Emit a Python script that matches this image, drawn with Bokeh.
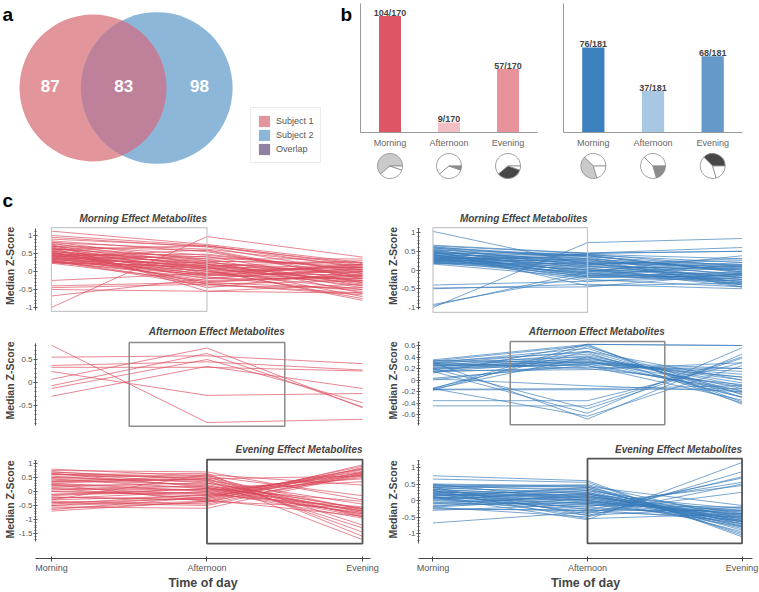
import numpy as np
from bokeh.plotting import figure
from bokeh.models import (Range1d, FactorRange, FixedTicker, Label, Legend,
                          LegendItem, ColumnDataSource)
from bokeh.layouts import row, column
from bokeh.embed import file_html
from bokeh.resources import INLINE
from bokeh.core.properties import value

FONT = "Liberation Sans"

# ------------------------------------------------------------------ data
VENN_ONLY_S1 = 87
VENN_OVERLAP = 83
VENN_ONLY_S2 = 98
VENN_LABELS = ["Subject 1", "Subject 2", "Overlap"]

TIMES = ["Morning", "Afternoon", "Evening"]
S1_COUNTS = [104, 9, 57]
S1_TOTAL = 170
S2_COUNTS = [76, 37, 68]
S2_TOTAL = 181
# slice order of the pies, counter-clockwise from 3 o'clock
S1_PIE_ORDER = ["Morning", "Evening", "Afternoon"]
S2_PIE_ORDER = ["Evening", "Morning", "Afternoon"]

# median z-scores (Morning, Afternoon, Evening) per metabolite
S1_MORNING_EFFECT = [
    (1.12, 0.75, 0.25), (1.0, 0.72, 0.1), (0.95, 0.68, -0.05), (0.9, 0.7, 0.22),
    (0.85, 0.55, -0.2), (0.82, 0.3, -0.6), (0.8, 0.62, 0.15), (0.78, 0.2, -0.3),
    (0.75, 0.45, 0.05), (0.72, 0.1, -0.15), (0.7, 0.35, -0.4), (0.68, -0.05, 0.2),
    (0.66, 0.25, -0.1), (0.64, 0.15, -0.7), (0.62, 0.4, 0.1), (0.6, 0.05, -0.25),
    (0.58, -0.1, 0.0), (0.56, 0.2, -0.45), (0.55, 0.3, 0.18), (0.53, -0.2, -0.2),
    (0.52, 0.1, -0.05), (0.5, 0.0, 0.12), (0.49, 0.22, -0.35), (0.48, -0.15, -0.55),
    (0.46, 0.12, 0.05), (0.45, -0.3, -0.1), (0.44, 0.05, -0.8), (0.42, 0.28, 0.25),
    (0.41, -0.08, -0.3), (0.4, 0.15, 0.0), (0.38, -0.25, -0.15), (0.37, 0.0, -0.5),
    (0.36, 0.18, 0.1), (0.35, -0.12, 0.2), (0.33, 0.08, -0.25), (0.32, -0.35, -0.6),
    (0.3, 0.25, -0.05), (0.29, -0.05, 0.15), (0.28, 0.1, -0.4), (0.27, -0.18, 0.05),
    (0.26, 0.02, -0.75), (0.25, -0.1, -0.2), (0.24, 0.15, 0.3), (0.23, -0.28, -0.1),
    (0.6, 0.72, 0.18), (0.7, 0.58, -0.2), (0.45, 0.48, 0.02), (0.35, 0.42, -0.3),
    (0.55, -0.35, -0.65), (0.65, -0.45, 0.0), (0.75, -0.55, -0.35), (-0.25, -0.05, -0.1),
    (-0.4, -0.3, -0.5), (-0.45, -0.35, -0.25), (-0.5, -0.55, -0.6), (-0.68, -0.2, 0.1),
    (-1.0, 0.97, 0.4), (0.5, 0.35, 0.35), (0.3, -0.4, -0.45), (0.4, 0.6, -0.15),
]
S1_AFTERNOON_EFFECT = [
    (0.81, -0.87, -0.80), (0.55, 0.58, 0.41), (0.37, 0.45, 0.27), (0.33, 0.33, 0.25),
    (0.24, -0.28, -0.24), (0.07, 0.75, -0.55), (-0.07, 0.63, -0.53), (-0.13, 0.5, -0.44),
    (-0.30, 0.35, -0.13),
]
S1_EVENING_EFFECT = [
    (-0.5, -0.35, 0.95), (-0.4, -0.25, 0.9), (-0.6, -0.4, 0.85), (-0.3, -0.15, 0.8),
    (-0.2, -0.3, 0.78), (-0.45, -0.1, 0.72), (-0.35, -0.45, 0.7), (-0.65, -0.2, 0.68),
    (-0.1, -0.05, 0.65), (-0.55, -0.6, 0.62), (0.1, -0.25, 0.6), (-0.25, 0.0, 0.58),
    (-0.7, -0.35, 0.55), (0.0, -0.15, 0.5), (-0.15, 0.1, 0.45), (0.2, 0.05, 0.35),
    (-0.4, -0.5, 0.65), (-0.3, 0.6, 0.23), (0.3, 0.45, 0.55), (-0.5, -0.2, 0.82),
    (0.8, 0.55, -0.15), (0.75, 0.7, -0.3), (0.7, 0.4, -0.45), (0.65, 0.3, -0.6),
    (0.6, 0.5, -0.65), (0.55, 0.2, -0.7), (0.5, 0.35, -0.75), (0.45, 0.1, -0.8),
    (0.4, 0.25, -0.85), (0.35, 0.45, -0.9), (0.3, 0.0, -0.95), (0.25, 0.15, -0.7),
    (0.2, 0.3, -0.62), (0.15, -0.1, -0.55), (0.1, 0.05, -0.8), (0.05, 0.2, -0.68),
    (0.0, -0.05, -0.75), (0.5, 0.6, -1.2), (0.7, 0.45, -1.3), (0.35, 0.55, -1.45),
    (0.6, 0.65, -1.6), (0.45, 0.4, -1.72), (-0.2, -0.3, -0.88), (0.65, 0.15, -0.9),
    (-0.1, 0.1, -0.35), (0.25, -0.35, -0.6),
]
S2_MORNING_EFFECT = [
    (1.03, 0.15, -0.1), (-1.0, 0.73, 0.84), (-0.95, -0.05, 0.1), (-0.92, -0.15, -0.3),
    (-0.4, -0.3, -0.2), (-0.48, -0.45, -0.1), (-0.5, -0.38, -0.5), (0.66, 0.45, 0.6),
    (0.64, 0.44, 0.5), (0.62, 0.3, 0.05), (0.6, 0.1, -0.2), (0.58, 0.35, -0.35),
    (0.56, 0.2, 0.1), (0.55, -0.1, -0.25), (0.53, 0.4, 0.2), (0.52, 0.05, -0.4),
    (0.5, 0.25, 0.0), (0.49, -0.2, -0.15), (0.48, 0.15, 0.3), (0.46, 0.38, -0.05),
    (0.45, 0.0, -0.3), (0.44, 0.22, 0.15), (0.42, -0.15, -0.1), (0.41, 0.3, -0.45),
    (0.4, 0.08, 0.05), (0.39, -0.05, 0.38), (0.38, 0.18, -0.2), (0.37, 0.42, 0.1),
    (0.36, -0.12, -0.35), (0.35, 0.12, 0.0), (0.34, 0.28, -0.15), (0.33, -0.02, 0.2),
    (0.32, 0.2, -0.4), (0.31, -0.18, -0.05), (0.3, 0.05, -0.25), (0.29, 0.35, 0.12),
    (0.28, -0.08, -0.3), (0.27, 0.15, 0.25), (0.26, 0.0, -0.12), (0.25, 0.25, -0.38),
    (0.24, -0.1, 0.05), (0.23, 0.1, -0.2), (0.22, 0.4, -0.08), (0.21, -0.15, 0.15),
    (0.2, 0.02, -0.45), (0.19, 0.3, 0.0), (0.18, -0.05, -0.25), (0.17, 0.18, 0.08),
    (0.16, -0.2, -0.15), (0.45, 0.45, 0.5), (0.5, -0.42, -0.35), (0.35, -0.3, -0.1),
    (0.6, 0.38, -0.05), (0.28, 0.42, 0.3), (0.4, -0.25, -0.45),
]
S2_AFTERNOON_EFFECT = [
    (0.35, 0.62, -0.42), (0.33, 0.6, -0.38), (0.3, 0.55, -0.3), (0.28, 0.5, -0.25),
    (0.32, 0.48, -0.4), (0.25, 0.45, -0.2), (0.22, 0.42, -0.1), (0.3, 0.4, -0.15),
    (0.2, 0.38, -0.05), (0.27, 0.36, 0.0), (0.18, 0.35, -0.3), (0.24, 0.33, 0.05),
    (0.15, 0.32, -0.12), (0.34, 0.3, 0.1), (0.21, 0.28, -0.22), (0.19, 0.27, 0.15),
    (0.26, 0.25, -0.35), (0.14, 0.22, 0.2), (0.29, 0.2, -0.08), (0.16, 0.18, 0.3),
    (0.03, 0.25, -0.18), (0.0, 0.3, 0.05), (-0.15, 0.62, 0.6), (-0.18, 0.58, -0.25),
    (-0.14, 0.5, 0.0), (-0.16, -0.15, -0.1), (-0.17, -0.17, -0.15), (-0.36, -0.36, 0.3),
    (-0.45, -0.45, 0.4), (0.2, -0.5, 0.38), (0.15, -0.58, 0.56), (-0.15, -0.63, 0.25),
    (0.3, -0.68, 0.45), (0.02, -0.1, -0.2), (0.12, 0.62, 0.6), (0.25, 0.3, 0.2),
    (-0.16, 0.4, -0.3),
]
S2_EVENING_EFFECT = [
    (0.1, -0.58, 1.15), (-0.2, -0.5, 0.87), (0.3, -0.4, 0.72), (-0.25, -0.3, 0.68),
    (0.05, -0.2, 0.55), (0.4, -0.45, 0.5), (-0.1, -0.1, 0.45), (0.2, -0.35, 0.25),
    (0.75, 0.6, -1.1), (0.65, 0.55, -1.05), (0.5, 0.45, -1.0), (0.48, 0.4, -0.9),
    (0.45, 0.3, -0.85), (0.42, 0.35, -0.8), (0.4, 0.2, -0.75), (0.38, 0.25, -0.7),
    (0.35, 0.1, -0.65), (0.33, 0.15, -0.6), (0.3, 0.05, -0.55), (0.28, 0.0, -0.5),
    (0.25, 0.12, -0.45), (0.22, -0.05, -0.4), (0.2, 0.08, -0.35), (0.18, -0.1, -0.3),
    (0.15, 0.18, -0.25), (0.12, -0.15, -0.2), (0.1, 0.02, -0.8), (0.08, -0.08, -0.7),
    (0.05, 0.22, -0.6), (0.02, -0.2, -0.5), (0.0, 0.3, -0.4), (-0.05, -0.25, -0.35),
    (-0.1, 0.15, -0.65), (-0.15, -0.05, -0.55), (-0.2, 0.05, -0.45), (-0.25, -0.3, -0.3),
    (-0.3, -0.12, -0.6), (-0.68, -0.35, -0.5), (0.45, 0.42, -0.15), (0.3, -0.55, -0.4),
    (0.15, 0.35, -0.72), (0.35, -0.28, -0.62), (0.25, 0.25, -0.95), (-0.05, 0.1, -0.3),
    (0.5, 0.0, -0.48), (0.12, -0.45, -0.2), (-0.18, 0.2, -0.78), (0.4, 0.48, -0.55),
    (0.22, -0.02, -0.42), (0.08, 0.4, -0.65),
]

# highlight boxes: (left, right, bottom, top) in data units
BOX_S1_MORNING = (0.0, 1.0, -1.11, 1.22)
BOX_S2_MORNING = (0.0, 1.0, -1.13, 1.13)
BOX_S1_AFTERNOON = (0.5, 1.5, -0.95, 0.87)
BOX_S2_AFTERNOON = (0.5, 1.5, -0.78, 0.67)
BOX_S1_EVENING = (1.0, 2.0, -1.86, 1.14)
BOX_S2_EVENING = (1.0, 2.0, -1.30, 1.27)

# ------------------------------------------------------------------ styles
S1_BAR_COLORS = ["#E05565", "#F2BFC5", "#E8939B"]
S2_BAR_COLORS = ["#3D80BE", "#A7C7E3", "#6499CA"]
PIE_COLORS = {"Morning": "#CACACA", "Afternoon": "#8C8C8C", "Evening": "#474747"}
VENN_COLORS = ["#E2969B", "#8DB7D9", "#BF819A"]
LEGEND_COLORS = ["#E2969B", "#8DB7D9", "#8E81A2"]
S1_LINE = "#DB4B5D"
S2_LINE = "#3A7CBB"


def clean(p):
    p.xgrid.visible = False
    p.ygrid.visible = False
    p.outline_line_color = None
    p.background_fill_color = "white"
    p.border_fill_color = "white"


def letter(p, text, x, y):
    p.add_layout(Label(x=x, y=y, x_units="screen", y_units="screen", text=text,
                       text_font=FONT, text_font_size="19px", text_font_style="bold",
                       text_color="black", text_baseline="alphabetic"))


# ------------------------------------------------------------------ panel a: venn
TOP_H = 211
A_W = 355
cx0, cy0 = 92.5, 87.5
R_SCALE = 5.637
r1 = R_SCALE * np.sqrt(VENN_ONLY_S1 + VENN_OVERLAP)
r2 = R_SCALE * np.sqrt(VENN_ONLY_S2 + VENN_OVERLAP)


def lens_area(ra, rb, d):
    a1 = np.arccos((d * d + ra * ra - rb * rb) / (2 * d * ra))
    a2 = np.arccos((d * d + rb * rb - ra * ra) / (2 * d * rb))
    t = 0.5 * np.sqrt((-d + ra + rb) * (d + ra - rb) * (d - ra + rb) * (d + ra + rb))
    return ra * ra * a1 + rb * rb * a2 - t


target = VENN_OVERLAP / (VENN_ONLY_S1 + VENN_OVERLAP) * np.pi * r1 * r1
lo, hi = abs(r1 - r2) + 1e-6, r1 + r2 - 1e-6
for _ in range(80):
    mid = 0.5 * (lo + hi)
    if lens_area(r1, r2, mid) > target:
        lo = mid
    else:
        hi = mid
dist = 0.5 * (lo + hi)

pa = figure(width=A_W, height=TOP_H, x_range=Range1d(-cx0, A_W - cx0),
            y_range=Range1d(-(TOP_H - cy0), cy0), x_axis_location=None, y_axis_location=None,
            toolbar_location=None, output_backend="svg", min_border=0)
clean(pa)
pa.circle(x=[0, dist], y=[0, 0], radius=[r1, r2], fill_color=VENN_COLORS[:2],
          line_color=None, fill_alpha=1.0)
x0 = (dist * dist + r1 * r1 - r2 * r2) / (2 * dist)
h = np.sqrt(r1 * r1 - x0 * x0)
t1 = np.arctan2(h, x0)
t2 = np.arctan2(h, dist - x0)
ta = np.linspace(-t1, t1, 80)
tb = np.linspace(np.pi - t2, np.pi + t2, 80)
lens_x = np.concatenate([r1 * np.cos(ta), dist + r2 * np.cos(tb)])
lens_y = np.concatenate([r1 * np.sin(ta), r2 * np.sin(tb)])
pa.patch(lens_x, lens_y, fill_color=VENN_COLORS[2], line_color=None)
num_x = [(-r1 + (dist - r2)) / 2, ((dist - r2) + r1) / 2, (r1 + dist + r2) / 2]
pa.text(x=num_x, y=[0, 0, 0], text=[str(VENN_ONLY_S1), str(VENN_OVERLAP), str(VENN_ONLY_S2)],
        text_align="center", text_baseline="middle", y_offset=-2,
        text_font=value(FONT), text_font_size="17px", text_font_style="bold",
        text_color="white")
leg_r = [pa.quad(left=[np.nan], right=[np.nan], top=[np.nan], bottom=[np.nan],
                 fill_color=c, line_color=None) for c in LEGEND_COLORS]
legend = Legend(items=[LegendItem(label=l, renderers=[r]) for l, r in zip(VENN_LABELS, leg_r)],
                location=(250, TOP_H - 163), margin=0, padding=6, spacing=0,
                glyph_width=14, glyph_height=14, label_height=14, label_standoff=5,
                label_text_font=FONT, label_text_font_size="9px", label_text_color="#555555",
                border_line_color="#d8d8d8", border_line_width=1,
                background_fill_color="white")
pa.add_layout(legend)
letter(pa, "a", 2, TOP_H - 14)
letter(pa, "b", 340, TOP_H - 14)
letter(pa, "c", 2, TOP_H - 200)

# ------------------------------------------------------------------ panel b: bars + pies
BAR_H = 150
PIE_H = TOP_H - BAR_H
BAR_BB = 18
BAR_W = 0.373
PX_PER_COUNT = 1.12
Y_TOP = (BAR_H - BAR_BB) / PX_PER_COUNT
PIE_CY = 165.5 - BAR_H


def bar_panel(counts, total, colors, order, W, bl, br):
    xr = FactorRange(*TIMES)
    p = figure(width=W, height=BAR_H, x_range=xr, y_range=Range1d(0, Y_TOP),
               toolbar_location=None, output_backend="svg",
               min_border_left=bl, min_border_right=br, min_border_top=0,
               min_border_bottom=BAR_BB)
    clean(p)
    src = ColumnDataSource(dict(x=TIMES, top=counts, color=colors,
                                lab=[f"{c}/{total}" for c in counts]))
    p.vbar(x="x", top="top", width=BAR_W, fill_color="color", line_color=None, source=src)
    p.text(x="x", y="top", text="lab", source=src, text_align="center",
           text_baseline="alphabetic", y_offset=-3, text_font=value(FONT),
           text_font_size="9px", text_font_style="bold", text_color="#444444")
    xa = p.xaxis[0]
    xa.axis_line_color = "#9a9a9a"
    xa.major_tick_line_color = None
    xa.minor_tick_line_color = None
    xa.major_tick_in = 0
    xa.major_tick_out = 0
    xa.minor_tick_in = 0
    xa.minor_tick_out = 0
    xa.major_label_standoff = 5
    xa.major_label_text_font = FONT
    xa.major_label_text_font_size = "9px"
    xa.major_label_text_color = "#666666"
    ya = p.yaxis[0]
    ya.ticker = FixedTicker(ticks=[])
    ya.bounds = (0, (BAR_H - BAR_BB - 3) / PX_PER_COUNT)
    ya.axis_line_color = "#9a9a9a"
    ya.major_tick_line_color = None
    ya.minor_tick_line_color = None
    ya.major_tick_in = 0
    ya.major_tick_out = 0
    ya.minor_tick_in = 0
    ya.minor_tick_out = 0

    pie = figure(width=W, height=PIE_H, x_range=xr,
                 y_range=Range1d(-(PIE_H - PIE_CY), PIE_CY),
                 x_axis_location=None, y_axis_location=None, toolbar_location=None,
                 output_backend="svg", min_border_left=bl, min_border_right=br,
                 min_border_top=0, min_border_bottom=0)
    clean(pie)
    cnt = dict(zip(TIMES, counts))
    tot = sum(counts)
    xs, st, en, fc = [], [], [], []
    for cat in TIMES:
        acc = 0.0
        for sl in order:
            frac = cnt[sl] / tot
            xs.append(cat)
            st.append(acc * 2 * np.pi)
            en.append((acc + frac) * 2 * np.pi)
            fc.append(PIE_COLORS[sl] if sl == cat else "white")
            acc += frac
    pie.wedge(x=xs, y=[0] * len(xs), radius=12.5, radius_units="screen",
              start_angle=st, end_angle=en, fill_color=fc,
              line_color="#8a8a8a", line_width=0.8)
    return column(p, pie, spacing=0)


b1 = bar_panel(S1_COUNTS, S1_TOTAL, S1_BAR_COLORS, S1_PIE_ORDER, 193, 5, 11)
b2 = bar_panel(S2_COUNTS, S2_TOTAL, S2_BAR_COLORS, S2_PIE_ORDER, 211, 15, 17)

# ------------------------------------------------------------------ panel c: line panels
COLS = {
    "L": dict(W=383, bl=34, br=13, xm=50.0, sp=156.0),
    "R": dict(W=376, bl=34, br=7, xm=48.5, sp=155.0),
}


def fmt(t):
    return "0" if t == 0 else ("%g" % t)


def line_panel(lines, color, col, top, H, bb, ticks_ref, bounds, major, minor_step,
               box, box_color, box_lw, title, title_x, title_ry, show_x):
    c = COLS[col]
    W, bl, br, xm, sp = c["W"], c["bl"], c["br"], c["xm"], c["sp"]
    xr = Range1d((bl - xm) / sp, (W - br - xm) / sp)
    (v1, q1), (v2, q2) = ticks_ref
    p1, p2 = q1 - top, q2 - top
    b = (p2 - p1) / (v2 - v1)
    a = p1 - b * v1
    yr = Range1d((H - bb - a) / b, (0 - a) / b)
    p = figure(width=W, height=H, x_range=xr, y_range=yr,
               x_axis_location="below" if show_x else None, toolbar_location=None,
               output_backend="svg", min_border_left=bl, min_border_right=br,
               min_border_top=0, min_border_bottom=bb)
    clean(p)
    xpos = list(range(len(TIMES)))
    p.multi_line(xs=[xpos for _ in lines], ys=[list(t) for t in lines],
                 line_color=color, line_alpha=0.8, line_width=0.85)
    p.quad(left=[box[0]], right=[box[1]], bottom=[box[2]], top=[box[3]],
           fill_color=None, line_color=box_color, line_width=box_lw)
    title_v = (title_ry - top - a) / b
    p.add_layout(Label(x=title_x, y=title_v, text=title, text_align="right",
                       text_baseline="middle", text_font=FONT, text_font_size="10px",
                       text_font_style="bold italic", text_color="#444444"))
    ya = p.yaxis[0]
    minor = [round(v, 3) for v in np.arange(np.ceil(bounds[0] / minor_step) * minor_step,
                                            bounds[1] + 1e-9, minor_step)]
    ya.ticker = FixedTicker(ticks=major, minor_ticks=minor)
    ya.major_label_overrides = {t: fmt(t) for t in major}
    ya.bounds = bounds
    ya.axis_label = "Median Z-Score"
    ya.axis_label_text_font = FONT
    ya.axis_label_text_font_size = "10.5px"
    ya.axis_label_text_font_style = "bold"
    ya.axis_label_text_color = "#444444"
    ya.axis_label_standoff = 0
    ya.major_label_text_font = FONT
    ya.major_label_text_font_size = "8px"
    ya.major_label_text_color = "#555555"
    ya.major_label_standoff = 1
    ya.major_tick_in = 2
    ya.major_tick_out = 2
    ya.minor_tick_in = 1
    ya.minor_tick_out = 1
    ya.axis_line_color = "#555555"
    ya.major_tick_line_color = "#555555"
    ya.minor_tick_line_color = "#555555"
    if show_x:
        xa = p.xaxis[0]
        xa.ticker = FixedTicker(ticks=xpos)
        xa.major_label_overrides = {i: t for i, t in zip(xpos, TIMES)}
        xa.axis_label = "Time of day"
        xa.axis_label_text_font = FONT
        xa.axis_label_text_font_size = "12.5px"
        xa.axis_label_text_font_style = "bold"
        xa.axis_label_text_color = "#444444"
        xa.axis_label_standoff = 0
        xa.major_label_text_font = FONT
        xa.major_label_text_font_size = "9px"
        xa.major_label_text_color = "#555555"
        xa.major_label_standoff = 1
        xa.major_tick_in = 2
        xa.major_tick_out = 3
        xa.minor_tick_line_color = None
        xa.axis_line_color = "#444444"
        xa.major_tick_line_color = "#444444"
    return p


T1, H1 = TOP_H, 320 - TOP_H
T2, H2 = 320, 120
T3, H3 = 440, 152
BB3 = 34

M5 = [-1.0, -0.5, 0.0, 0.5, 1.0]
l1 = line_panel(S1_MORNING_EFFECT, S1_LINE, "L", T1, H1, 0, ((1, 235), (-1, 307)),
                (-1.08, 1.19), M5, 0.1, BOX_S1_MORNING, "#c6c6c6", 1.2,
                "Morning Effect Metabolites", 1.0, 218, False)
r1p = line_panel(S2_MORNING_EFFECT, S2_LINE, "R", T1, H1, 0, ((1, 232), (-1, 307)),
                 (-1.06, 1.10), M5, 0.1, BOX_S2_MORNING, "#c6c6c6", 1.2,
                 "Morning Effect Metabolites", 1.0, 218, False)
l2 = line_panel(S1_AFTERNOON_EFFECT, S1_LINE, "L", T2, H2, 0, ((0.5, 359), (-0.5, 405)),
                (-0.93, 0.85), [-0.5, 0.0, 0.5], 0.1, BOX_S1_AFTERNOON, "#8c8c8c", 1.5,
                "Afternoon Effect Metabolites", 1.5, 331, False)
r2p = line_panel(S2_AFTERNOON_EFFECT, S2_LINE, "R", T2, H2, 0, ((0.6, 345), (-0.6, 414)),
                 (-0.79, 0.675), [-0.6, -0.4, -0.2, 0.0, 0.2, 0.4, 0.6], 0.05,
                 BOX_S2_AFTERNOON, "#8c8c8c", 1.5,
                 "Afternoon Effect Metabolites", 1.5, 331, False)
l3 = line_panel(S1_EVENING_EFFECT, S1_LINE, "L", T3, H3, BB3, ((1, 463), (-1.5, 533)),
                (-1.79, 1.10), [-1.5, -1.0, -0.5, 0.0, 0.5, 1.0], 0.1, BOX_S1_EVENING,
                "#555555", 1.8, "Evening Effect Metabolites", 2.0, 449, True)
r3p = line_panel(S2_EVENING_EFFECT, S2_LINE, "R", T3, H3, BB3, ((1, 467), (-1, 533)),
                 (-1.29, 1.21), M5, 0.1, BOX_S2_EVENING, "#555555", 1.8,
                 "Evening Effect Metabolites", 2.0, 449, True)

layout = column(
    row(pa, b1, b2, spacing=0),
    row(l1, r1p, spacing=0),
    row(l2, r2p, spacing=0),
    row(l3, r3p, spacing=0),
    spacing=0,
)

open("out.html", "w").write(file_html(layout, INLINE))
